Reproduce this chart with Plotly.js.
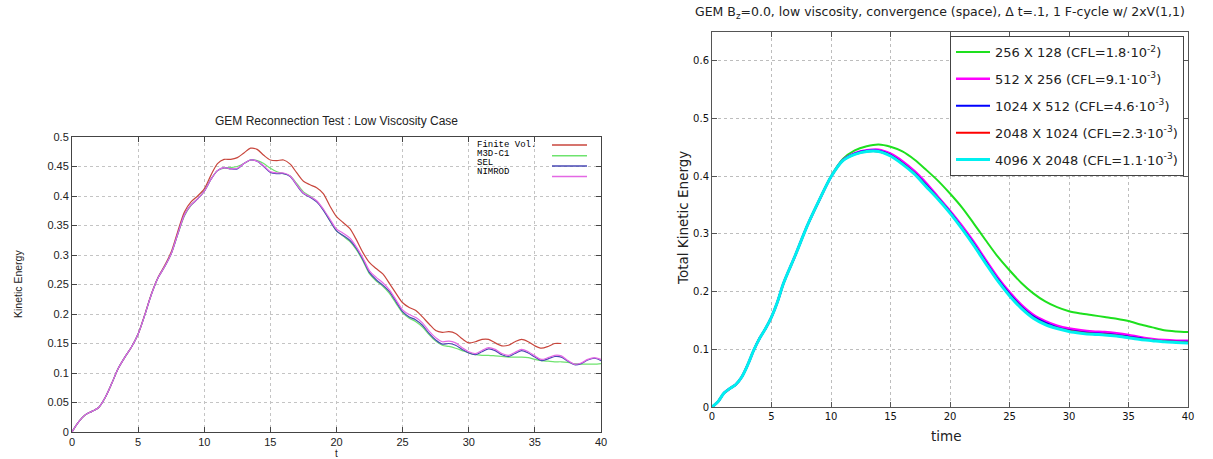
<!DOCTYPE html>
<html>
<head>
<meta charset="utf-8">
<script src="https://cdn.plot.ly/plotly-3.0.1.min.js"></script>
<style>html,body{margin:0;padding:0;background:#fff;}#chart{width:1213px;height:459px;}</style>
</head>
<body>
<div id="chart"></div>
<script>
// ---------- Left panel: GEM Reconnection Test : Low Viscosity Case ----------
const tLeft = [0,0.5,1,1.5,2,2.5,3,3.5,4,4.5,5,5.5,6,6.5,7,7.5,8,8.5,9,9.5,10,10.5,11,11.5,12,12.5,13,13.5,14,14.5,15,15.5,16,16.5,17,17.5,18,18.5,19,19.5,20,20.5,21,21.5,22,22.5,23,23.5,24,24.5,25,25.5,26,26.5,27,27.5,28,28.5,29,29.5,30,30.5,31,31.5,32,32.5,33,33.5,34,34.5,35,35.5,36,36.5,37,37.5,38,38.5,39,39.5,40];

const finiteVol = [0,0.017,0.029,0.035,0.041,0.058,0.082,0.108,0.127,0.144,0.166,0.199,0.234,0.262,0.282,0.305,0.340,0.373,0.390,0.400,0.412,0.435,0.455,0.462,0.462,0.465,0.473,0.481,0.479,0.469,0.461,0.460,0.461,0.454,0.439,0.425,0.419,0.414,0.404,0.383,0.365,0.355,0.345,0.326,0.304,0.287,0.277,0.268,0.252,0.235,0.219,0.211,0.206,0.195,0.183,0.172,0.169,0.170,0.167,0.158,0.151,0.153,0.157,0.157,0.151,0.146,0.147,0.153,0.157,0.153,0.146,0.142,0.145,0.150,0.150];

const m3dc1 = [0,0.017,0.029,0.035,0.041,0.058,0.082,0.108,0.127,0.144,0.166,0.198,0.233,0.261,0.280,0.302,0.335,0.366,0.384,0.395,0.408,0.428,0.443,0.447,0.448,0.450,0.455,0.461,0.460,0.455,0.447,0.441,0.438,0.434,0.421,0.407,0.400,0.391,0.377,0.358,0.341,0.332,0.323,0.309,0.290,0.268,0.256,0.247,0.235,0.218,0.202,0.193,0.187,0.178,0.165,0.154,0.147,0.145,0.142,0.138,0.134,0.131,0.130,0.130,0.129,0.128,0.127,0.127,0.127,0.126,0.123,0.121,0.120,0.119,0.119,0.118,0.116,0.115,0.115,0.115,0.116];

const sel = [0,0.017,0.029,0.035,0.041,0.058,0.082,0.108,0.127,0.144,0.166,0.198,0.233,0.261,0.280,0.302,0.336,0.368,0.385,0.395,0.408,0.428,0.443,0.448,0.446,0.446,0.455,0.461,0.459,0.450,0.440,0.438,0.438,0.433,0.418,0.404,0.398,0.390,0.376,0.358,0.341,0.333,0.325,0.311,0.292,0.270,0.258,0.249,0.238,0.221,0.204,0.195,0.190,0.181,0.167,0.156,0.149,0.150,0.147,0.140,0.134,0.131,0.136,0.141,0.138,0.131,0.128,0.133,0.138,0.134,0.127,0.121,0.124,0.128,0.127,0.120,0.114,0.116,0.122,0.125,0.121];

const nimrod = [0,0.017,0.029,0.035,0.041,0.058,0.082,0.108,0.127,0.144,0.166,0.198,0.233,0.261,0.280,0.302,0.336,0.368,0.385,0.395,0.408,0.428,0.443,0.448,0.446,0.447,0.455,0.461,0.459,0.451,0.441,0.439,0.439,0.434,0.419,0.405,0.399,0.392,0.378,0.361,0.344,0.337,0.329,0.314,0.295,0.273,0.262,0.253,0.241,0.224,0.207,0.199,0.194,0.185,0.171,0.160,0.153,0.154,0.151,0.143,0.136,0.133,0.138,0.143,0.140,0.133,0.130,0.135,0.140,0.136,0.129,0.123,0.126,0.130,0.129,0.121,0.115,0.117,0.123,0.126,0.123];

const leftNames = ['Finite Vol.','M3D-C1','SEL','NIMROD'];
const leftColors = ['#c8463c','#6ee36e','#4848b4','#e468e4'];

// ---------- Right panel: convergence (space) ----------
const tRight = [0,0.5,1,1.5,2,2.5,3,3.5,4,4.5,5,5.5,6,7,8,9,10,11,12,13,14,15,16,17,18,19,20,21,22,23,24,25,26,27,28,29,30,31,32,33,34,35,36,37,38,39,40];

const g256 = [0,0.009,0.024,0.032,0.039,0.052,0.073,0.098,0.119,0.136,0.156,0.182,0.214,0.263,0.314,0.358,0.400,0.430,0.445,0.452,0.455,0.451,0.443,0.429,0.411,0.392,0.370,0.346,0.318,0.289,0.261,0.237,0.215,0.197,0.183,0.173,0.166,0.162,0.159,0.156,0.153,0.149,0.143,0.138,0.133,0.131,0.130];
const g512 = [0,0.009,0.024,0.032,0.039,0.052,0.073,0.098,0.119,0.136,0.156,0.182,0.214,0.263,0.314,0.358,0.399,0.428,0.440,0.445,0.446,0.439,0.426,0.409,0.388,0.364,0.340,0.314,0.286,0.255,0.225,0.199,0.177,0.160,0.149,0.141,0.136,0.133,0.131,0.130,0.128,0.125,0.121,0.118,0.116,0.115,0.115];
const g1024 = [0,0.009,0.024,0.032,0.039,0.052,0.073,0.098,0.119,0.136,0.156,0.182,0.214,0.263,0.314,0.358,0.399,0.428,0.439,0.444,0.444,0.437,0.423,0.406,0.385,0.362,0.338,0.311,0.283,0.252,0.222,0.196,0.174,0.157,0.146,0.138,0.133,0.130,0.128,0.127,0.125,0.122,0.119,0.116,0.114,0.113,0.113];
const g2048 = [0,0.009,0.024,0.032,0.039,0.052,0.073,0.098,0.119,0.136,0.156,0.182,0.214,0.263,0.314,0.358,0.399,0.427,0.438,0.443,0.443,0.436,0.422,0.405,0.383,0.361,0.337,0.310,0.281,0.250,0.220,0.194,0.172,0.155,0.144,0.137,0.132,0.129,0.127,0.126,0.124,0.121,0.118,0.116,0.114,0.113,0.112];
const g4096 = [0,0.009,0.024,0.032,0.039,0.052,0.073,0.098,0.119,0.136,0.156,0.182,0.214,0.263,0.314,0.358,0.399,0.427,0.438,0.443,0.443,0.435,0.421,0.404,0.382,0.360,0.336,0.309,0.280,0.249,0.219,0.193,0.171,0.154,0.143,0.136,0.131,0.128,0.126,0.125,0.123,0.120,0.117,0.115,0.113,0.112,0.111];

const rightNames = ['256 X 128 (CFL=1.8·10<sup>-2</sup>)','512 X 256 (CFL=9.1·10<sup>-3</sup>)','1024 X 512 (CFL=4.6·10<sup>-3</sup>)','2048 X 1024 (CFL=2.3·10<sup>-3</sup>)','4096 X 2048 (CFL=1.1·10<sup>-3</sup>)'];
const rightColors = ['#1ee01e','#ff00ff','#0000ff','#ff0000','#00f0f0'];
const rightWidths = [2,2.5,2,2,3];

const leftSeries = [finiteVol, m3dc1, sel, nimrod];
const rightSeries = [g256, g512, g1024, g2048, g4096];

const W = 1213, H = 459;
const px = x => x / W;
const py = y => 1 - y / H;

const traces = [];
[0,1,2,3].forEach(i => {
  traces.push({
    x: tLeft.slice(0, leftSeries[i].length), y: leftSeries[i],
    type: 'scatter', mode: 'lines', name: leftNames[i], showlegend: false,
    line: {color: leftColors[i], width: 1.2, shape: 'spline', smoothing: 0.8},
    xaxis: 'x', yaxis: 'y'
  });
});
rightSeries.forEach((s, i) => {
  traces.push({
    x: tRight, y: s, type: 'scatter', mode: 'lines', name: rightNames[i],
    legendgroup: 'g' + i,
    line: {color: rightColors[i], width: rightWidths[i], shape: 'spline', smoothing: 0.8},
    xaxis: 'x2', yaxis: 'y2'
  });
});

const leftAxisCommon = {
  showline: true, linecolor: '#444', linewidth: 1, mirror: 'ticks',
  ticks: 'inside', ticklen: 5, tickcolor: '#444',
  showgrid: true, gridcolor: '#c4c4c4', griddash: 'dot', gridwidth: 1,
  zeroline: false, tickfont: {family: 'Liberation Sans, Arial', size: 11, color: '#222'}
};
const rightAxisCommon = {
  showline: true, linecolor: '#555', linewidth: 1, mirror: 'ticks',
  ticks: 'inside', ticklen: 5, tickcolor: '#555',
  showgrid: true, gridcolor: '#bdbdbd', griddash: 'dot', gridwidth: 1,
  zeroline: false, tickfont: {family: 'DejaVu Sans, Arial', size: 10, color: '#111'}
};

const annotations = [
  {text: 'GEM Reconnection Test : Low Viscosity Case', x: px(336), y: py(121), xref: 'paper', yref: 'paper', showarrow: false, xanchor: 'center', yanchor: 'middle', font: {family: 'Liberation Sans, Arial', size: 12, color: '#222'}},
  {text: 'Kinetic Energy', x: px(18), y: py(284), xref: 'paper', yref: 'paper', showarrow: false, textangle: -90, xanchor: 'center', yanchor: 'middle', font: {family: 'Liberation Sans, Arial', size: 10.5, color: '#222'}},
  {text: 't', x: px(336), y: py(446), xref: 'paper', yref: 'paper', showarrow: false, xanchor: 'center', yanchor: 'top', font: {family: 'Liberation Sans, Arial', size: 10, color: '#222'}},
  {text: 'GEM B<sub>z</sub>=0.0, low viscosity, convergence (space), Δ t=.1, 1 F-cycle w/ 2xV(1,1)', x: px(940), y: py(12), xref: 'paper', yref: 'paper', showarrow: false, xanchor: 'center', yanchor: 'middle', font: {family: 'DejaVu Sans, Arial', size: 12.5, color: '#222'}},
  {text: 'Total Kinetic Energy', x: px(683), y: py(218), xref: 'paper', yref: 'paper', showarrow: false, textangle: -90, xanchor: 'center', yanchor: 'middle', font: {family: 'DejaVu Sans, Arial', size: 13.5, color: '#222'}},
  {text: 'time', x: px(946), y: py(436), xref: 'paper', yref: 'paper', showarrow: false, xanchor: 'center', yanchor: 'middle', font: {family: 'DejaVu Sans, Arial', size: 13.5, color: '#222'}}
];
const shapes = [];
const legTextY = [145, 154, 163, 172];
const legLineY = [145, 155.7, 165.9, 176.5];
leftNames.forEach((n, i) => {
  annotations.push({text: n, x: px(476), y: py(legTextY[i]), xref: 'paper', yref: 'paper', showarrow: false, xanchor: 'left', yanchor: 'middle', borderpad: 0, font: {family: 'Liberation Mono, Courier New, monospace', size: 9, color: '#000'}});
  shapes.push({type: 'line', xref: 'paper', yref: 'paper', x0: px(552), x1: px(587), y0: py(legLineY[i]), y1: py(legLineY[i]), line: {color: leftColors[i], width: 1.5}});
});

const layout = {
  width: W, height: H,
  margin: {l: 0, r: 0, t: 0, b: 0},
  paper_bgcolor: '#fff', plot_bgcolor: '#fff',
  showlegend: true,
  xaxis: Object.assign({}, leftAxisCommon, {domain: [px(72), px(601)], range: [0, 40], dtick: 5, anchor: 'y'}),
  yaxis: Object.assign({}, leftAxisCommon, {domain: [py(432), py(137)], range: [0, 0.5], dtick: 0.05, anchor: 'x'}),
  xaxis2: Object.assign({}, rightAxisCommon, {domain: [px(712), px(1188)], range: [0, 40], dtick: 5, anchor: 'y2'}),
  yaxis2: Object.assign({}, rightAxisCommon, {domain: [py(407), py(32)], range: [0, 0.65], dtick: 0.1, anchor: 'x2'}),
  legend: {
    x: px(950), y: py(36), xanchor: 'left', yanchor: 'top',
    bgcolor: '#fff', bordercolor: '#444', borderwidth: 1,
    font: {family: 'DejaVu Sans, Arial', size: 13, color: '#222'},
    traceorder: 'grouped', tracegroupgap: 7, itemwidth: 34
  },
  annotations: annotations,
  shapes: shapes
};

Plotly.newPlot('chart', traces, layout, {displayModeBar: false, staticPlot: true});
</script>
</body>
</html>
